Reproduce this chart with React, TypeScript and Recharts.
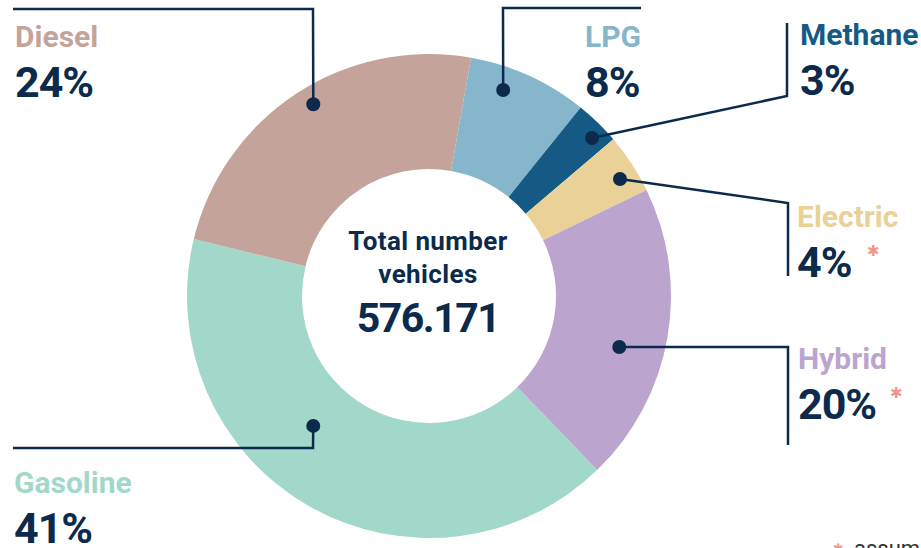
import React from 'react';
import { PieChart, Pie, Cell } from 'recharts';

const categories = ['LPG', 'Methane', 'Electric', 'Hybrid', 'Gasoline', 'Diesel'];
const shares = [8, 3, 4, 20, 41, 24];
const labels = ['8%', '3%', '4%', '20%', '41%', '24%'];
const assumed = [false, false, true, true, false, false];
const totalLabel = '576.171';

const COLORS = ['#86b6cc', '#155a85', '#e9d197', '#bba5cf', '#a2d8ca', '#c4a49a'];
const NAVY = '#0c2a4b';
const PINK = '#f0978b';
const FONT = 'Roboto, "Noto Sans", sans-serif';

// leader line layout: dot angle (deg clockwise from top) and radius, then the elbow path and text spot
const LAYOUT = [
  { angle: 19.8, r: 219, path: [[503, 8], [641, 8]], tx: 585, ty: 47 },
  { angle: 45.9, r: 227, path: [[787, 96], [787, 23]], tx: 800, ty: 45 },
  { angle: 58.5, r: 224, path: [[788, 203], [788, 276]], tx: 797, ty: 227 },
  { angle: 105, r: 197, path: [[788, 347], [788, 445]], tx: 798, ty: 369 },
  { angle: 221.7, r: 174, path: [[313, 448], [13, 448]], tx: 14, ty: 493 },
  { angle: 328.9, r: 224, path: [[313, 9], [13, 9]], tx: 15, ty: 47 },
];

const data = categories.map((name, i) => ({ name, value: shares[i] }));

const renderLabel = (props: any) => {
  const { index } = props;
  const cx = props.cx ?? 429;
  const cy = props.cy ?? 296;
  const l = LAYOUT[index];
  const rad = (l.angle * Math.PI) / 180;
  const dx = cx + l.r * Math.sin(rad);
  const dy = cy - l.r * Math.cos(rad);
  const pts = [[dx, dy], ...l.path].map((p) => p.join(',')).join(' ');
  const pctWidth = labels[index].length === 2 ? 58 : 80;
  return (
    <g key={`lbl-${index}`}>
      <polyline points={pts} fill="none" stroke={NAVY} strokeWidth={2.5} />
      <circle cx={dx} cy={dy} r={7} fill={NAVY} />
      <text x={l.tx} y={l.ty} fill={COLORS[index]} fontFamily={FONT} fontWeight={700} fontSize={30}>
        {categories[index]}
      </text>
      <text x={l.tx} y={l.ty + 50} fill={NAVY} fontFamily={FONT} fontWeight={700} fontSize={43} letterSpacing={-1}>
        {labels[index]}
      </text>
      {assumed[index] && (
        <text x={l.tx + pctWidth + 12} y={l.ty + 29} fill={PINK} fontFamily="DejaVu Sans" fontWeight={700} fontSize={15}>
          ✱
        </text>
      )}
    </g>
  );
};

export default function App() {
  return (
    <div style={{ position: 'absolute', left: 0, top: 0, width: 921, height: 548, background: '#fff' }}>
      <PieChart width={921} height={548} margin={{ top: 0, right: 0, bottom: 0, left: 0 }}>
        <Pie
          data={data}
          dataKey="value"
          cx={429}
          cy={296}
          innerRadius={127}
          outerRadius={242}
          startAngle={80}
          endAngle={-280}
          stroke="none"
          label={renderLabel}
          labelLine={false}
          isAnimationActive={false}
        >
          {data.map((d, i) => (
            <Cell key={d.name} fill={COLORS[i]} />
          ))}
        </Pie>
        <text x={428} y={250} textAnchor="middle" fill={NAVY} fontFamily={FONT} fontWeight={700} fontSize={26} letterSpacing={0.4}>
          Total number
        </text>
        <text x={428} y={283} textAnchor="middle" fill={NAVY} fontFamily={FONT} fontWeight={700} fontSize={26} letterSpacing={0.4}>
          vehicles
        </text>
        <text x={428} y={332} textAnchor="middle" fill={NAVY} fontFamily={FONT} fontWeight={700} fontSize={41} letterSpacing={-1.5}>
          {totalLabel}
        </text>
        <text x={833} y={553} fill={PINK} fontFamily="DejaVu Sans" fontWeight={700} fontSize={13}>
          ✱
        </text>
        <text x={854} y={556} fill="#333" fontFamily={FONT} fontSize={22}>
          assumed
        </text>
      </PieChart>
    </div>
  );
}
